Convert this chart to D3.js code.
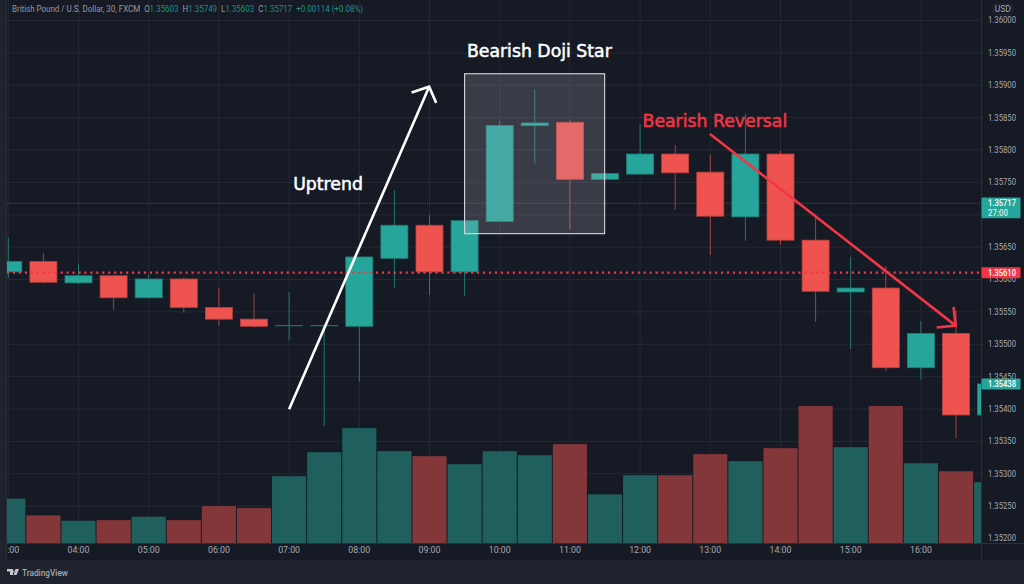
<!DOCTYPE html>
<html>
<head>
<meta charset="utf-8">
<script src="https://cdn.jsdelivr.net/npm/d3@7"></script>
<style>
	html, body { margin: 0; padding: 0; background: #161a25; overflow: hidden; }
	svg { display: block; }
	text { font-family: Roboto, sans-serif; }
</style>
</head>
<body>
<svg id="chart" width="1024" height="584"></svg>
<script>
const times = ['03:00','03:30','04:00','04:30','05:00','05:30','06:00','06:30','07:00','07:30','08:00','08:30','09:00','09:30','10:00','10:30','11:00','11:30','12:00','12:30','13:00','13:30','14:00','14:30','15:00','15:30','16:00','16:30','17:00'];
const opens = [1.35611,1.35627,1.35594,1.35605,1.35571,1.35600,1.35556,1.35538,1.35528,1.35528,1.35527,1.35632,1.35683,1.35611,1.35689,1.35837,1.35842,1.35754,1.35762,1.35793,1.35765,1.35696,1.35793,1.35660,1.35580,1.35586,1.35463,1.35516,1.35390];
const highs = [1.35664,1.35640,1.35624,1.35605,1.35607,1.35602,1.35587,1.35578,1.35580,1.35528,1.35634,1.35737,1.35699,1.35690,1.35844,1.35893,1.35846,1.35763,1.35839,1.35807,1.35792,1.35855,1.35798,1.35700,1.35634,1.35620,1.35535,1.35552,1.35438];
const lows = [1.35602,1.35593,1.35592,1.35552,1.35571,1.35548,1.35528,1.35525,1.35505,1.35373,1.35441,1.35586,1.35575,1.35574,1.35689,1.35778,1.35677,1.35754,1.35762,1.35707,1.35637,1.35659,1.35653,1.35534,1.35492,1.35458,1.35445,1.35354,1.35390];
const closes = [1.35627,1.35595,1.35605,1.35571,1.35600,1.35556,1.35538,1.35527,1.35528,1.35528,1.35634,1.35683,1.35611,1.35690,1.35837,1.35841,1.35754,1.35763,1.35793,1.35764,1.35697,1.35793,1.35660,1.35581,1.35586,1.35463,1.35516,1.35390,1.35438];
const volumes = [442,275,222,228,262,228,368,348,665,905,1145,915,865,785,915,875,985,485,675,675,885,815,945,1365,955,1365,795,715,605];

const priceTicks = [1.36,1.3595,1.359,1.3585,1.358,1.3575,1.357,1.3565,1.356,1.3555,1.355,1.3545,1.354,1.3535,1.353,1.3525,1.352];
const hourTicks = ['03:00','04:00','05:00','06:00','07:00','08:00','09:00','10:00','11:00','12:00','13:00','14:00','15:00','16:00','17:00'];

const lastPrice = 1.35717;
const markedPrice = 1.3561;
const livePrice = 1.35438;

// annotations in bar index / price
const upArrow = [[8, 1.35399], [11.99, 1.35897]];
const upHead = [[11.49, 1.35888], [11.99, 1.35897], [12.19, 1.35872]];
const downArrow = [[19.99, 1.35824], [26.99, 1.35528]];
const downHead = [[26.45, 1.35525], [26.99, 1.35528], [26.93, 1.35557]];
const dojiBox = [[13, 1.35917], [16.99, 1.3567]];
const notes = [
	['Uptrend', 9.11, 1.35747, '#ffffff'],
	['Bearish Doji Star', 15.13, 1.35952, '#ffffff'],
	['Bearish Reversal', 20.13, 1.35845, '#f23645']
];

const legendParts = [
	['British Pound / U.S. Dollar, 30, FXCM  ', '#9598a1'],
	['O', '#9598a1'], ['1.35603  ', '#1f8f85'],
	['H', '#9598a1'], ['1.35749  ', '#1f8f85'],
	['L', '#9598a1'], ['1.35603  ', '#1f8f85'],
	['C', '#9598a1'], ['1.35717  ', '#1f8f85'],
	['+0.00114 (+0.08%)', '#1f8f85']
];

const UP = '#26a69a';
const DOWN = '#ef5350';
const ALERT = '#f23645';
const BG = '#161a25';
const CHROME = '#1f232e';
const GRID = '#242833';
const AXIS_TEXT = '#a6a9b1';

const left = 7, right = 981, plotBottom = 543, footerTop = 560;
const barStep = 35.1;

const svg = d3.select('#chart');

const x = d3
	.scaleBand()
	.domain(times)
	.range([8.3 - barStep / 2, 8.3 - barStep / 2 + barStep * times.length]);
const y = d3
	.scaleLinear()
	.domain([1.352, 1.36])
	.range([538, 20]);
const yVol = d3
	.scaleLinear()
	.domain([0, 1365])
	.range([plotBottom, 406]);

const xAt = i => x(times[0]) + x.bandwidth() / 2 + i * x.step();

svg.append('rect').attr('width', 1024).attr('height', 584).attr('fill', BG);
svg.append('rect').attr('y', footerTop).attr('width', 1024).attr('height', 584 - footerTop).attr('fill', CHROME);
svg.append('rect').attr('width', left - 1).attr('height', 584).attr('fill', CHROME);

svg.append('defs').append('clipPath').attr('id', 'plot')
	.append('rect').attr('x', left).attr('y', 0).attr('width', right - left).attr('height', plotBottom);
svg.select('defs').append('clipPath').attr('id', 'timeClip')
	.append('rect').attr('x', left).attr('y', plotBottom).attr('width', right - left).attr('height', footerTop - plotBottom);

// grid
const gridY = svg.append('g')
	.attr('transform', 'translate(' + right + ',0)')
	.call(d3.axisRight(y).tickValues(priceTicks).tickSize(-(right - left)).tickFormat(''));
const gridX = svg.append('g')
	.attr('clip-path', 'url(#plot)')
	.append('g')
	.attr('transform', 'translate(0,' + plotBottom + ')')
	.call(d3.axisBottom(x).tickValues(hourTicks).tickSize(-plotBottom).tickFormat(''));
[gridY, gridX].forEach(g => {
	g.select('.domain').remove();
	g.selectAll('line').attr('stroke', GRID).attr('stroke-width', 1);
});

const plot = svg.append('g').attr('clip-path', 'url(#plot)');

const isUp = i => closes[i] >= opens[i];

// volume
plot.append('g')
	.selectAll('rect')
	.data(times)
	.join('rect')
	.attr('x', d => x(d) + 0.5)
	.attr('width', x.bandwidth() - 1)
	.attr('y', (d, i) => yVol(volumes[i]))
	.attr('height', (d, i) => plotBottom - yVol(volumes[i]))
	.attr('fill', (d, i) => (isUp(i) ? '#1f5f5d' : '#843739'));

// last price line
plot.append('line')
	.attr('x1', left).attr('x2', right)
	.attr('y1', y(lastPrice)).attr('y2', y(lastPrice))
	.attr('stroke', UP).attr('stroke-opacity', 0.5)
	.attr('stroke-dasharray', '1 1');

// wicks
plot.append('g')
	.selectAll('line')
	.data(times)
	.join('line')
	.attr('x1', d => x(d) + x.bandwidth() / 2)
	.attr('x2', d => x(d) + x.bandwidth() / 2)
	.attr('y1', (d, i) => y(highs[i]))
	.attr('y2', (d, i) => y(lows[i]))
	.attr('stroke', (d, i) => (isUp(i) ? UP : DOWN))
	.attr('stroke-opacity', 0.65)
	.attr('stroke-width', 1);

// bodies, a doji still gets a hairline
plot.append('g')
	.selectAll('rect')
	.data(times)
	.join('rect')
	.attr('x', d => x(d) + (x.bandwidth() - 27) / 2)
	.attr('width', 27)
	.attr('y', (d, i) => y(Math.max(opens[i], closes[i])))
	.attr('height', (d, i) => Math.max(0.2, Math.abs(y(opens[i]) - y(closes[i]))))
	.attr('fill', (d, i) => (isUp(i) ? UP : DOWN))
	.attr('stroke', (d, i) => d3.color(isUp(i) ? UP : DOWN).darker(0.7))
	.attr('stroke-width', 0.8);

// marked price level
plot.append('line')
	.attr('x1', left).attr('x2', right)
	.attr('y1', y(markedPrice)).attr('y2', y(markedPrice))
	.attr('stroke', ALERT)
	.attr('stroke-width', 2.2)
	.attr('stroke-dasharray', '2.2 3.75');

// annotations
const arrowLine = d3.line().x(d => xAt(d[0])).y(d => y(d[1]));

svg.append('rect')
	.attr('x', xAt(dojiBox[0][0]))
	.attr('y', y(dojiBox[0][1]))
	.attr('width', xAt(dojiBox[1][0]) - xAt(dojiBox[0][0]))
	.attr('height', y(dojiBox[1][1]) - y(dojiBox[0][1]))
	.attr('fill', '#bcbec6').attr('fill-opacity', 0.21)
	.attr('stroke', '#d8d9dc').attr('stroke-width', 1.1);

[[upArrow, '#ffffff'], [upHead, '#ffffff'], [downArrow, ALERT], [downHead, ALERT]].forEach(a => {
	svg.append('path')
		.attr('d', arrowLine(a[0]))
		.attr('fill', 'none')
		.attr('stroke', a[1])
		.attr('stroke-width', 2.6)
		.attr('stroke-linejoin', 'miter');
});

svg.append('g')
	.selectAll('text')
	.data(notes)
	.join('text')
	.attr('x', d => xAt(d[1]))
	.attr('y', d => y(d[2]))
	.attr('dy', '0.36em')
	.attr('text-anchor', 'middle')
	.attr('fill', d => d[3])
	.attr('stroke', d => d[3])
	.attr('stroke-width', 0.5)
	.style('font-family', '"DejaVu Sans", sans-serif')
	.style('font-size', '17.3px')
	.text(d => d[0]);

// axis frame
svg.append('line').attr('x1', left - 0.5).attr('x2', left - 0.5).attr('y1', 0).attr('y2', footerTop).attr('stroke', '#2a2e39');
svg.append('line').attr('x1', right + 0.5).attr('x2', right + 0.5).attr('y1', 0).attr('y2', footerTop).attr('stroke', '#2a2e39');
svg.append('line').attr('x1', left).attr('x2', 1024).attr('y1', plotBottom + 0.5).attr('y2', plotBottom + 0.5).attr('stroke', '#2a2e39');

// price axis
const priceAxis = svg.append('g')
	.attr('transform', 'translate(' + right + ',0)')
	.call(d3.axisRight(y).tickValues(priceTicks).tickSize(0).tickPadding(7).tickFormat(d3.format('.5f')));
priceAxis.select('.domain').remove();
priceAxis.selectAll('text')
	.attr('fill', AXIS_TEXT)
	.attr('textLength', 28)
	.attr('lengthAdjust', 'spacingAndGlyphs')
	.style('font-family', 'Roboto, sans-serif')
	.style('font-size', '9px');

// time axis
const timeAxis = svg.append('g')
	.attr('clip-path', 'url(#timeClip)')
	.append('g')
	.attr('transform', 'translate(0,' + plotBottom + ')')
	.call(d3.axisBottom(x).tickValues(hourTicks).tickSize(0).tickPadding(4).tickFormat(d => d));
timeAxis.select('.domain').remove();
timeAxis.selectAll('text')
	.attr('fill', AXIS_TEXT)
	.style('font-family', 'Roboto, sans-serif')
	.style('font-size', '8.8px');

// price labels
function priceTag(price, color, top, height, lines) {
	svg.append('rect')
		.attr('x', right + 0.5).attr('y', y(price) + top)
		.attr('width', 39).attr('height', height)
		.attr('rx', 1)
		.attr('fill', color);
	lines.forEach(l => {
		svg.append('text')
			.attr('x', right + 7)
			.attr('y', y(price) + l[1])
			.attr('dy', '0.36em')
			.attr('fill', l[2])
			.attr('textLength', l[3])
			.attr('lengthAdjust', 'spacingAndGlyphs')
			.style('font-size', '9px')
			.style('font-weight', 500)
			.text(l[0]);
	});
}
priceTag(lastPrice, UP, -5.7, 20.7, [['1.35717', -0.3, '#ffffff', 28], ['27:00', 9.3, '#d4eeeb', 20]]);
priceTag(markedPrice, ALERT, -5.3, 11, [['1.35610', 0, '#ffffff', 28]]);
priceTag(livePrice, UP, -5.3, 11, [['1.35438', 0, '#ffffff', 28]]);

// currency button
svg.append('rect')
	.attr('x', 993.5).attr('y', 4).attr('width', 18.5).attr('height', 10.5)
	.attr('rx', 2.5)
	.attr('fill', 'none').attr('stroke', '#262a35');
svg.append('text')
	.attr('x', 1002.7).attr('y', 9.2)
	.attr('dy', '0.36em')
	.attr('text-anchor', 'middle')
	.attr('fill', AXIS_TEXT)
	.style('font-size', '8.5px')
	.text('USD');

// legend
svg.append('text')
	.attr('x', 12).attr('y', 8.5)
	.attr('dy', '0.36em')
	.attr('textLength', 351)
	.attr('lengthAdjust', 'spacingAndGlyphs')
	.style('font-size', '8.8px')
	.style('white-space', 'pre')
	.selectAll('tspan')
	.data(legendParts)
	.join('tspan')
	.attr('fill', d => d[1])
	.text(d => d[0]);

// footer logo
svg.append('path')
	.attr('d', 'M7 569h6v6h-3v-3.5H7zM13.5 575l2-6h3.5l-2.5 6zM14.2 570.6a1.1 1.1 0 1 0 .01 0z')
	.attr('fill', '#c4c6cc');
svg.append('text')
	.attr('x', 22).attr('y', 572.5)
	.attr('dy', '0.36em')
	.attr('fill', '#a6a9b1')
	.style('font-size', '8.8px')
	.style('font-weight', 500)
	.attr('textLength', 46)
	.attr('lengthAdjust', 'spacingAndGlyphs')
	.text('TradingView');
</script>
</body>
</html>
